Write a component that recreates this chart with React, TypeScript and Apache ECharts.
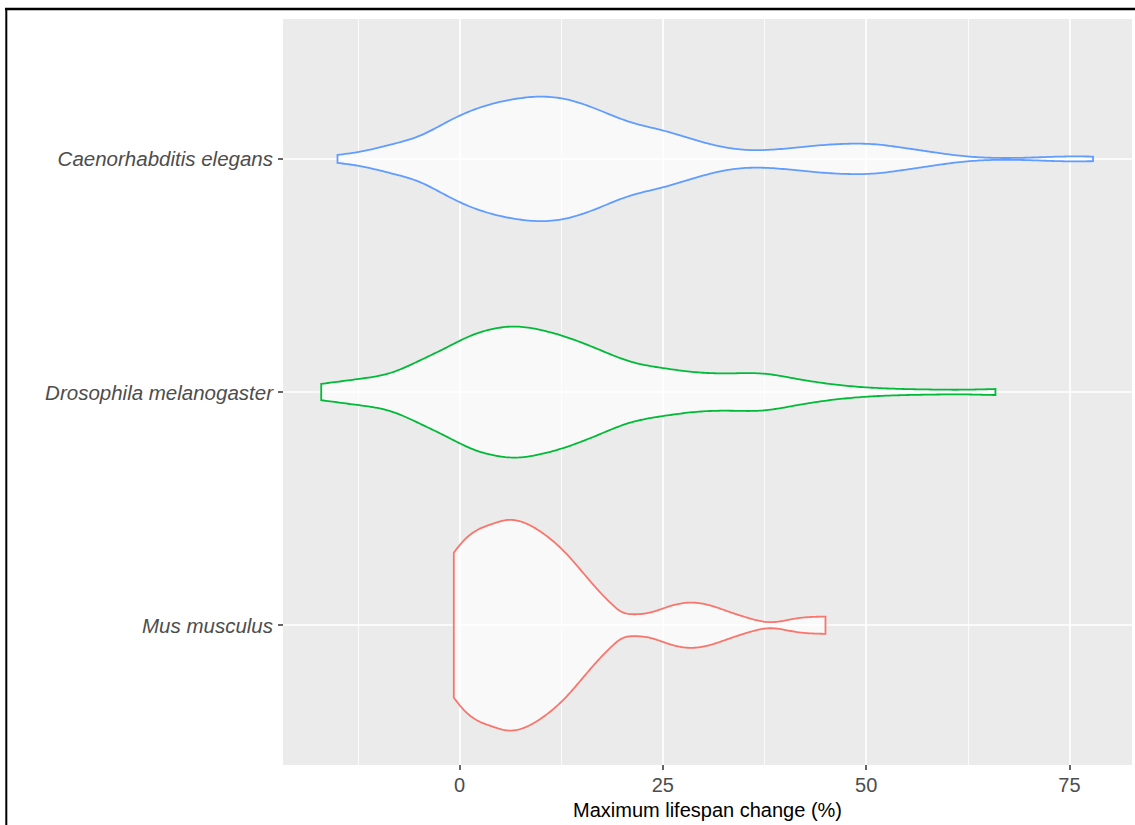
import React, { useEffect, useRef } from "react";
import * as echarts from "echarts";

// Categories (bottom to top)
const categories = ["Mus musculus", "Drosophila melanogaster", "Caenorhabditis elegans"];
const categoryPos = [1, 2, 3];
const colors = ["#F8766D", "#00BA38", "#619CFF"];

// Violin profiles: maximum lifespan change (%) and violin half-width (in category units)
const musX = [-0.7, 0.5, 2.5, 4.0, 5.8, 8.7, 10.7, 12.8, 14.8, 16.9, 18.9, 19.8, 21.4, 23.4, 25.9, 28.3, 30.8, 33.2, 35.7, 38.1, 41.4, 45.0];
const musW = [0.311, 0.362, 0.414, 0.434, 0.451, 0.428, 0.383, 0.319, 0.241, 0.156, 0.085, 0.060, 0.047, 0.054, 0.082, 0.097, 0.085, 0.057, 0.029, 0.013, 0.029, 0.037];

const droX = [-17.0, -12.2, -8.5, -4.9, -1.6, 1.7, 4.6, 6.6, 9.9, 13.2, 16.9, 20.9, 25.0, 29.1, 33.0, 37.3, 41.4, 45.5, 49.6, 53.7, 57.8, 61.5, 65.9];
const droW = [0.035, 0.057, 0.082, 0.135, 0.191, 0.246, 0.274, 0.281, 0.267, 0.235, 0.186, 0.132, 0.103, 0.085, 0.080, 0.079, 0.057, 0.035, 0.021, 0.014, 0.011, 0.010, 0.013];

const caeX = [-15.0, -12.2, -8.5, -4.9, -1.6, 0.9, 4.2, 7.4, 10.3, 13.2, 16.9, 20.9, 25.0, 27.5, 31.6, 35.7, 39.7, 43.9, 48.0, 50.4, 54.1, 58.2, 62.3, 66.4, 70.5, 74.0, 77.9];
const caeW = [0.017, 0.031, 0.061, 0.099, 0.157, 0.199, 0.238, 0.260, 0.267, 0.255, 0.213, 0.159, 0.122, 0.097, 0.057, 0.038, 0.043, 0.057, 0.065, 0.064, 0.050, 0.029, 0.011, 0.004, 0.006, 0.010, 0.010];

const profX = [musX, droX, caeX];
const profW = [musW, droW, caeW];

const xTicks = [0, 25, 50, 75];
const xMinorTicks = [-12.5, 12.5, 37.5, 62.5];
const xMin = -21.7;
const xMax = 82.69;
const yMin = 0.4;
const yMax = 3.6;

const FONT = "'Liberation Sans', Arial, Helvetica, sans-serif";

// natural cubic spline used only to render a smooth outline through the read points
function splineEval(xs: number[], ys: number[]) {
  const n = xs.length;
  const h: number[] = [];
  for (let i = 0; i < n - 1; i++) h.push(xs[i + 1] - xs[i]);
  const a = new Array(n).fill(0);
  const b = new Array(n).fill(0);
  const c = new Array(n).fill(0);
  const d = new Array(n).fill(0);
  b[0] = 1;
  b[n - 1] = 1;
  for (let i = 1; i < n - 1; i++) {
    a[i] = h[i - 1];
    b[i] = 2 * (h[i - 1] + h[i]);
    c[i] = h[i];
    d[i] = 6 * ((ys[i + 1] - ys[i]) / h[i] - (ys[i] - ys[i - 1]) / h[i - 1]);
  }
  // Thomas algorithm
  const cp = new Array(n).fill(0);
  const dp = new Array(n).fill(0);
  cp[0] = c[0] / b[0];
  dp[0] = d[0] / b[0];
  for (let i = 1; i < n; i++) {
    const m = b[i] - a[i] * cp[i - 1];
    cp[i] = c[i] / m;
    dp[i] = (d[i] - a[i] * dp[i - 1]) / m;
  }
  const M = new Array(n).fill(0);
  M[n - 1] = dp[n - 1];
  for (let i = n - 2; i >= 0; i--) M[i] = dp[i] - cp[i] * M[i + 1];
  return (x: number) => {
    let i = 0;
    while (i < n - 2 && x > xs[i + 1]) i++;
    const hi = h[i];
    const t1 = xs[i + 1] - x;
    const t0 = x - xs[i];
    return (
      (M[i] * t1 * t1 * t1) / (6 * hi) +
      (M[i + 1] * t0 * t0 * t0) / (6 * hi) +
      (ys[i] / hi - (M[i] * hi) / 6) * t1 +
      (ys[i + 1] / hi - (M[i + 1] * hi) / 6) * t0
    );
  };
}

export default function App() {
  const ref = useRef<HTMLDivElement>(null);
  useEffect(() => {
    if (!ref.current) return;
    const chart = echarts.init(ref.current, undefined, { renderer: "svg" });
    const axisLabelStyle = { color: "#4D4D4D", fontSize: 20, fontFamily: FONT };
    chart.setOption({
      animation: false,
      textStyle: { fontFamily: FONT },
      graphic: [
        { type: "line", shape: { x1: 5, y1: 9, x2: 1135, y2: 9 }, style: { stroke: "#000", lineWidth: 2.5 }, z: 100 },
        { type: "line", shape: { x1: 6.3, y1: 8, x2: 6.3, y2: 825 }, style: { stroke: "#000", lineWidth: 2 }, z: 100 },
      ],
      grid: {
        left: 283,
        right: 3,
        top: 19,
        bottom: 55,
        show: true,
        backgroundColor: "#EBEBEB",
        borderWidth: 0,
      },
      xAxis: [
        {
          type: "value",
          min: xMin,
          max: xMax,
          position: "bottom",
          axisLine: { show: false, onZero: false },
          axisTick: { show: true, customValues: xTicks, length: 5, lineStyle: { color: "#333333", width: 1.5 } },
          axisLabel: { customValues: xTicks, margin: 10, ...axisLabelStyle },
          splitLine: { show: true, lineStyle: { color: "#FFFFFF", width: 1.7 } },
          name: "Maximum lifespan change (%)",
          nameLocation: "middle",
          nameGap: 32,
          nameTextStyle: { color: "#000000", fontSize: 20, fontFamily: FONT },
        },
        {
          type: "value",
          min: xMin,
          max: xMax,
          position: "bottom",
          axisLine: { show: false, onZero: false },
          axisTick: { show: false, customValues: xMinorTicks },
          axisLabel: { show: false, customValues: xMinorTicks },
          splitLine: { show: true, lineStyle: { color: "#FFFFFF", width: 0.8 } },
        },
      ],
      yAxis: {
        type: "value",
        min: yMin,
        max: yMax,
        axisLine: { show: false, onZero: false },
        axisTick: { show: true, customValues: categoryPos, length: 5, lineStyle: { color: "#333333", width: 1.5 } },
        axisLabel: {
          customValues: categoryPos,
          margin: 10,
          fontStyle: "italic",
          formatter: (v: number) => categories[Math.round(v) - 1] ?? "",
          ...axisLabelStyle,
          fontSize: 20.5,
        },
        splitLine: { show: true, lineStyle: { color: "#FFFFFF", width: 1.7 } },
      },
      series: [
        {
          type: "custom",
          xAxisIndex: 0,
          yAxisIndex: 0,
          data: categoryPos.map((c, i) => [profX[i][0], c]),
          renderItem: (params: any, api: any) => {
            const i = params.dataIndex;
            const xs = profX[i];
            const ws = profW[i];
            const c = categoryPos[i];
            const f = splineEval(xs, ws);
            const x0 = xs[0];
            const x1 = xs[xs.length - 1];
            const steps = 300;
            const top: number[][] = [];
            const bot: number[][] = [];
            for (let s = 0; s <= steps; s++) {
              const x = x0 + ((x1 - x0) * s) / steps;
              const w = Math.max(0.002, f(x));
              top.push(api.coord([x, c + w]));
              bot.push(api.coord([x, c - w]));
            }
            const pts = top.concat(bot.reverse());
            return {
              type: "polygon",
              shape: { points: pts },
              style: { fill: "rgba(255,255,255,0.7)", stroke: colors[i], lineWidth: 1.8 },
            };
          },
        },
      ],
    });
    return () => chart.dispose();
  }, []);
  return (
    <div
      ref={ref}
      style={{ position: "fixed", left: 0, top: 0, width: 1135, height: 825, background: "#FFFFFF" }}
    />
  );
}
